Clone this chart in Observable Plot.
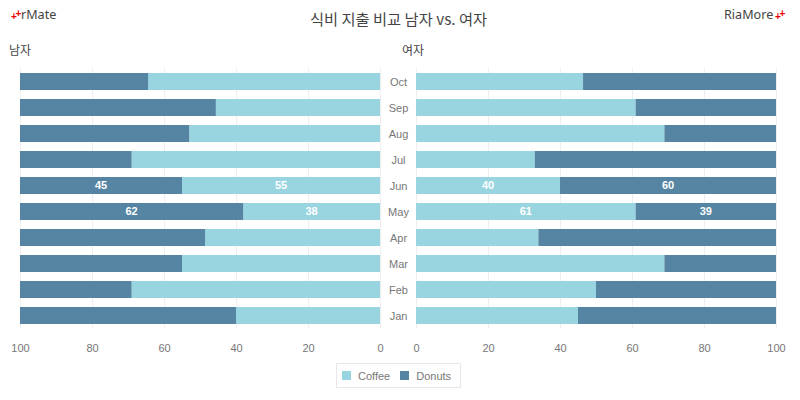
<!DOCTYPE html>
<html>
<head>
<meta charset="utf-8">
<script src="https://cdn.jsdelivr.net/npm/d3@7"></script>
<script src="https://cdn.jsdelivr.net/npm/@observablehq/plot@0.6"></script>
<style>
  html, body { margin: 0; padding: 0; background: #fff; }
  #page { position: relative; width: 800px; height: 400px; overflow: hidden; font-family: "Liberation Sans", Arial, sans-serif; }
  #header { position: relative; height: 60px; }
  #header div { position: absolute; white-space: nowrap; color: #444; }
  #title { left: 0; width: 797px; top: 8px; text-align: center; font: 15.3px/20px "Noto Sans CJK KR", sans-serif; }
  .logo { top: 7px; font: 12.6px/16px "Noto Sans", sans-serif; }
  .sub { top: 41px; font: 12px/18px "Noto Sans CJK KR", sans-serif; }
  #header .mark { top: 8px; color: #e00; font: bold 10px/12px "Liberation Sans", sans-serif; }
  #charts { position: relative; height: 300px; }
  #charts svg { position: absolute; top: 0; display: block; }
  #legend { position: absolute; left: 336px; top: 363px; width: 123px; height: 23px; border: 1px solid #e8e8e8; display: flex; align-items: center; font-size: 11px; color: #777; }
  #legend i { display: inline-block; width: 9px; height: 9px; margin-left: 5px; margin-right: 7px; }
  #legend span { margin-right: 5px; }
</style>
</head>
<body>
<div id="page">
  <div id="header">
    <div id="title">식비 지출 비교 남자 vs. 여자</div>
    <div class="mark" style="left:11px;top:11px">+</div>
    <div class="mark" style="left:15.5px;top:8px">+</div>
    <div class="logo" style="left:21px">rMate</div>
    <div class="logo" style="left:724px">RiaMore</div>
    <div class="mark" style="left:775px;top:11px">+</div>
    <div class="mark" style="left:779.5px;top:8px">+</div>
    <div class="sub" style="left:9px">남자</div>
    <div class="sub" style="left:402px">여자</div>
  </div>
  <div id="charts"></div>
  <div id="legend"></div>
</div>
<script>
const months = ["Oct","Sep","Aug","Jul","Jun","May","Apr","Mar","Feb","Jan"];
const maleCoffee = [64.4,45.6,53,69,55,38,48.6,55,69,40];
const femaleCoffee = [46.4,61,69,33,40,61,34,69,50,45];
const labelledMonths = ["Jun","May"];
const xTicks = [0,20,40,60,80,100];
const seriesNames = ["Coffee","Donuts"];
const seriesColors = ["#99d5e1","#5585a3"];

function rows(coffee) {
  return months.flatMap((m, i) => [
    {month: m, series: "Coffee", x1: 0, x2: coffee[i], value: coffee[i]},
    {month: m, series: "Donuts", x1: coffee[i], x2: 100, value: 100 - coffee[i]}
  ]);
}

function panel(coffee, opts) {
  const data = rows(coffee);
  return Plot.plot({
    width: opts.width,
    height: 300,
    marginTop: 8.5,
    marginBottom: 31.5,
    marginLeft: opts.marginLeft,
    marginRight: opts.marginRight,
    style: {background: "transparent", overflow: "visible", fontFamily: "'Liberation Sans', Arial, sans-serif"},
    x: {domain: opts.domain, label: null},
    y: {domain: months, paddingInner: 0.35, paddingOuter: 0.175, align: 0.5, label: null, axis: null},
    color: {domain: seriesNames, range: seriesColors},
    marks: [
      Plot.gridX(xTicks, {stroke: "#eee", strokeOpacity: 1}),
      Plot.barX(data, {x1: "x1", x2: "x2", y: "month", fill: "series"}),
      Plot.text(data.filter(d => labelledMonths.includes(d.month)), {
        x: d => (d.x1 + d.x2) / 2,
        y: "month",
        text: d => String(d.value),
        dx: -0.5,
        dy: -0.5,
        fill: "#fff",
        fontWeight: "bold",
        fontSize: 11
      }),
      Plot.axisX({ticks: xTicks, tickSize: 0, tickPadding: 15, fill: "#777", fontSize: 11, label: null}),
      opts.showMonths
        ? Plot.axisY(months, {anchor: "right", tickSize: 0, tickPadding: 18, textAnchor: "middle", fill: "#777", fontSize: 11, label: null})
        : null
    ]
  });
}

const charts = document.getElementById("charts");
const left = panel(maleCoffee, {width: 420, domain: [100, 0], marginLeft: 20, marginRight: 40, showMonths: true});
const right = panel(femaleCoffee, {width: 400, domain: [0, 100], marginLeft: 16, marginRight: 24, showMonths: false});
left.style.left = "0px";
right.style.left = "400px";
charts.append(left, right);

const legend = document.getElementById("legend");
seriesNames.forEach((name, i) => {
  const swatch = document.createElement("i");
  swatch.style.background = seriesColors[i];
  const label = document.createElement("span");
  label.textContent = name;
  legend.append(swatch, label);
});
</script>
</body>
</html>
